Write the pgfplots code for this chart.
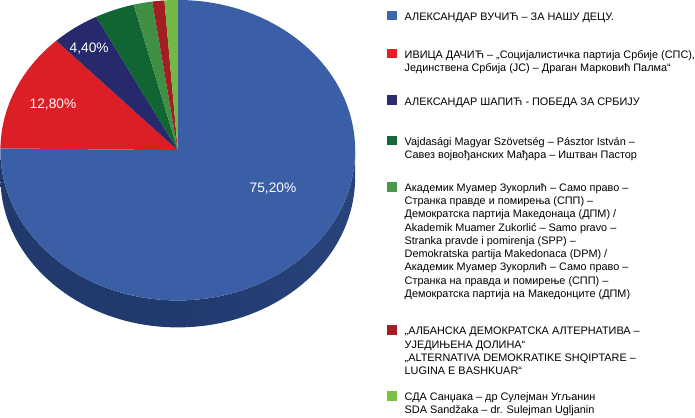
\documentclass[border=0pt]{standalone}
\usepackage{pgfplots}
\pgfplotsset{compat=1.18}
\usepackage{pgfplotstable}
\usepackage{fontspec}
\setmainfont{Liberation Sans}

\definecolor{sliceA}{HTML}{3B5FA6}
\definecolor{sliceB}{HTML}{DC1E26}
\definecolor{sliceC}{HTML}{26296B}
\definecolor{sliceD}{HTML}{116533}
\definecolor{sliceE}{HTML}{3F8F44}
\definecolor{sliceF}{HTML}{A31E23}
\definecolor{sliceG}{HTML}{72B944}
\definecolor{legA}{HTML}{3F64AE}
\definecolor{legB}{HTML}{E91D25}
\definecolor{legC}{HTML}{2A2D70}
\definecolor{legD}{HTML}{146937}
\definecolor{legE}{HTML}{479848}
\definecolor{legF}{HTML}{A61F26}
\definecolor{legG}{HTML}{78C043}
\definecolor{sideL}{HTML}{21396B}
\definecolor{sideM}{HTML}{213A6E}
\definecolor{sideR}{HTML}{28447C}

\pgfplotstableread{
share
75.2
12.8
4.4
3.6
1.7
1.1
1.2
}\piedata

\def\cx{174.4}
\def\cy{264.3}
\def\rx{174.4}
\def\ry{147.7}
\def\depth{26.5}

\def\aA{90}
\pgfplotstablegetelem{0}{share}\of\piedata\pgfmathsetmacro\aB{\aA-3.6*\pgfplotsretval}
\pgfplotstablegetelem{1}{share}\of\piedata\pgfmathsetmacro\aC{\aB-3.6*\pgfplotsretval}
\pgfplotstablegetelem{2}{share}\of\piedata\pgfmathsetmacro\aD{\aC-3.6*\pgfplotsretval}
\pgfplotstablegetelem{3}{share}\of\piedata\pgfmathsetmacro\aE{\aD-3.6*\pgfplotsretval}
\pgfplotstablegetelem{4}{share}\of\piedata\pgfmathsetmacro\aF{\aE-3.6*\pgfplotsretval}
\pgfplotstablegetelem{5}{share}\of\piedata\pgfmathsetmacro\aG{\aF-3.6*\pgfplotsretval}
\pgfplotstablegetelem{6}{share}\of\piedata\pgfmathsetmacro\aH{\aG-3.6*\pgfplotsretval}

\newcommand\slice[3]{\fill[#1] (axis cs:\cx,\cy) -- ++(#2:\rx pt and \ry pt) arc[start angle=#2, end angle=#3, x radius=\rx pt, y radius=\ry pt] -- cycle;}
\newcommand\legfont{\fontsize{10.7}{13}\selectfont}
\newcommand\legentry[3]{\node[anchor=base west, inner sep=0pt, font=\legfont] at (axis cs:380,#2) {{\color{#1}\rule[0pt]{9.5pt}{9.5pt}}\hspace{7.8pt}\begin{tabular}[t]{@{}l@{}}#3\end{tabular}};}

\begin{document}
\begin{tikzpicture}
\begin{axis}[
  x=1pt, y=1pt,
  xmin=0, xmax=695, ymin=0, ymax=412,
  hide axis, clip=false,
]
% side of the pie
\shade[left color=sideL, right color=sideR, middle color=sideM] (axis cs:\cx,\cy) ++(180:\rx pt and \ry pt) arc[start angle=180, end angle=360, x radius=\rx pt, y radius=\ry pt] -- ++(0pt,-\depth pt) arc[start angle=360, end angle=180, x radius=\rx pt, y radius=\ry pt] -- cycle;
% top face slices
\slice{sliceA}{\aA}{\aB}
\slice{sliceB}{\aB}{\aC}
\slice{sliceC}{\aC}{\aD}
\slice{sliceD}{\aD}{\aE}
\slice{sliceE}{\aE}{\aF}
\slice{sliceF}{\aF}{\aG}
\slice{sliceG}{\aG}{\aH}
% labels
\node[white, font=\fontsize{13.5}{16}\selectfont] at (axis cs:51.7,309.3) {12,80\%};
\node[white, font=\fontsize{13.5}{16}\selectfont] at (axis cs:87.3,364.3) {4,40\%};
\node[white, font=\fontsize{13.5}{16}\selectfont] at (axis cs:268,227) {75,20\%};
% legend
\legentry{legA}{392}{АЛЕКСАНДАР ВУЧИЋ – ЗА НАШУ ДЕЦУ.}
\legentry{legB}{354.7}{ИВИЦА ДАЧИЋ – „Социјалистичка партија Србије (СПС),\\Јединствена Србија (ЈС) – Драган Марковић Палма“}
\legentry{legC}{308.7}{АЛЕКСАНДАР ШАПИЋ - ПОБЕДА ЗА СРБИЈУ}
\legentry{legD}{269}{Vajdasági Magyar Szövetség – Pásztor István –\\Савез војвођанских Мађара – Иштван Пастор}
\legentry{legE}{223.7}{Академик Муамер Зукорлић – Само право –\\Странка правде и помирења (СПП) –\\Демократска партија Македонаца (ДПМ) /\\Akademik Muamer Zukorlić – Samo pravo –\\Stranka pravde i pomirenja (SPP) –\\Demokratska partija Makedonaca (DPM) /\\Академик Муамер Зукорлић – Само право –\\Странка на правда и помирење (СПП) –\\Демократска партија на Македонците (ДПМ)}
\legentry{legF}{82.7}{„АЛБАНСКА ДЕМОКРАТСКА АЛТЕРНАТИВА –\\УЈЕДИЊЕНА ДОЛИНА“\\„ALTERNATIVA DEMOKRATIKE SHQIPTARE –\\LUGINA E BASHKUAR“}
\legentry{legG}{18}{СДА Санџака – др Сулејман Угљанин\\SDA Sandžaka – dr. Sulejman Ugljanin}
\end{axis}
\end{tikzpicture}
\end{document}
